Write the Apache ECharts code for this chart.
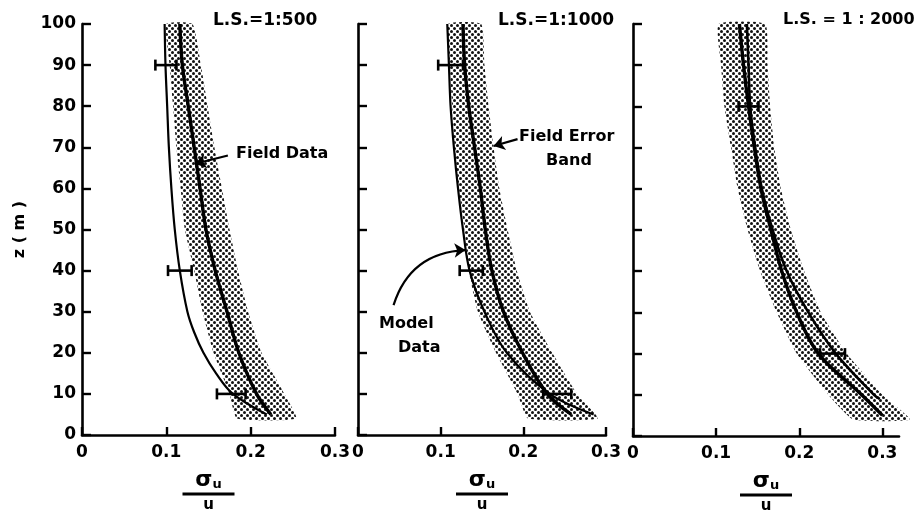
<!DOCTYPE html>
<html>
<head>
<meta charset="utf-8">
<script src="https://cdn.jsdelivr.net/npm/echarts@6/dist/echarts.min.js"></script>
<style>
html,body{margin:0;padding:0;background:#fff;}
#c{width:922px;height:511px;}
</style>
</head>
<body>
<div id="c"></div>
<script>
// ---------- data ----------
const panelTitles = ['L.S.=1:500', 'L.S.=1:1000', 'L.S. = 1 : 2000'];
const xTicks = [0, 0.1, 0.2, 0.3];
const yTicks = [0, 10, 20, 30, 40, 50, 60, 70, 80, 90, 100];

const zLevels = [100, 90, 80, 70, 60, 50, 40, 30, 20, 10, 5];
const bandZ   = [100, 90, 80, 70, 60, 50, 40, 30, 20, 10, 4];

// Panel 1  (L.S. = 1:500)
const p1Field  = [0.116, 0.119, 0.126, 0.133, 0.140, 0.147, 0.158, 0.172, 0.186, 0.207, 0.224];
const p1ModelZ = [100, 90, 80, 70, 60, 50, 40, 30, 25, 20, 15, 10, 5];
const p1Model  = [0.098, 0.099, 0.101, 0.103, 0.106, 0.110, 0.116, 0.125, 0.133, 0.144, 0.159, 0.179, 0.219];
const p1BandL  = [0.100, 0.104, 0.108, 0.112, 0.117, 0.122, 0.133, 0.143, 0.156, 0.175, 0.184];
const p1BandR  = [0.131, 0.141, 0.149, 0.157, 0.166, 0.175, 0.185, 0.197, 0.213, 0.240, 0.254];
const p1ErrZ   = [90, 40, 10];
const p1ErrLo  = [0.087, 0.102, 0.160];
const p1ErrHi  = [0.112, 0.130, 0.194];

// Panel 2  (L.S. = 1:1000)
const p2Field = [0.127, 0.129, 0.134, 0.141, 0.148, 0.154, 0.162, 0.176, 0.199, 0.229, 0.258];
const p2Model = [0.108, 0.110, 0.112, 0.116, 0.121, 0.127, 0.135, 0.153, 0.180, 0.232, 0.285];
const p2BandL = [0.109, 0.111, 0.114, 0.117, 0.122, 0.129, 0.134, 0.145, 0.167, 0.193, 0.206];
const p2BandR = [0.149, 0.153, 0.158, 0.164, 0.171, 0.181, 0.192, 0.208, 0.235, 0.265, 0.290];
const p2ErrZ  = [90, 40, 10];
const p2ErrLo = [0.097, 0.123, 0.224];
const p2ErrHi = [0.127, 0.151, 0.258];

// Panel 3  (L.S. = 1:2000)
const p3Field  = [0.128, 0.133, 0.139, 0.146, 0.154, 0.166, 0.179, 0.197, 0.223, 0.275, 0.300];
const p3ModelZ = [100, 90, 80, 70, 60, 50, 40, 30, 20, 10, 9];
const p3Model  = [0.137, 0.139, 0.141, 0.147, 0.155, 0.168, 0.185, 0.211, 0.244, 0.290, 0.297];
const p3BandL  = [0.103, 0.106, 0.110, 0.118, 0.126, 0.138, 0.153, 0.173, 0.197, 0.235, 0.265];
const p3BandR  = [0.159, 0.162, 0.165, 0.170, 0.178, 0.190, 0.206, 0.226, 0.257, 0.300, 0.333];
const p3ErrZ   = [80, 20];
const p3ErrLo  = [0.127, 0.225];
const p3ErrHi  = [0.151, 0.255];

// annotation arrows (data coordinates: [sigma_u/u, z])
const fieldDataArrow  = [[0.173, 68.0], [0.134, 66.0]];
const errorBandArrow  = [[0.193, 72.0], [0.164, 70.3]];
const modelDataArrow  = [[0.043, 31.6], [0.130, 45.0]];

// ---------- styling helpers ----------
const FONT = 'DejaVu Sans';
const tile = document.createElement('canvas');
tile.width = 6; tile.height = 6;
(function(){
  const g = tile.getContext('2d');
  g.fillStyle = '#fff'; g.fillRect(0,0,6,6);
  g.fillStyle = '#111';
  g.beginPath(); g.arc(1.5, 1.5, 1.5, 0, Math.PI*2); g.fill();
  g.beginPath(); g.arc(4.5, 4.5, 1.5, 0, Math.PI*2); g.fill();
})();
const dotPattern = { image: tile, repeat: 'repeat' };

function pairs(xs, zs){ return zs.map((z,i)=>[xs[i], z]); }

function bandSeries(idx, L, R){
  return {
    type: 'custom', xAxisIndex: idx, yAxisIndex: idx, silent: true, z: 1,
    data: bandZ.map((z,i)=>[L[i], R[i], z]),
    encode: { x: [0,1], y: 2 },
    renderItem: function(params, api){
      if (params.dataIndex !== 0) return { type: 'group', children: [] };
      const pts = [];
      for (let i = 0; i < bandZ.length; i++) pts.push(api.coord([L[i], bandZ[i]]));
      for (let i = bandZ.length - 1; i >= 0; i--) pts.push(api.coord([R[i], bandZ[i]]));
      return { type: 'polygon', shape: { points: pts, smooth: 0.15 }, style: { fill: dotPattern, stroke: null } };
    }
  };
}

function errSeries(idx, zs, lo, hi){
  return {
    type: 'custom', xAxisIndex: idx, yAxisIndex: idx, silent: true, z: 5,
    data: zs.map((z,i)=>[lo[i], hi[i], z]),
    encode: { x: [0,1], y: 2 },
    renderItem: function(params, api){
      const z = api.value(2);
      const a = api.coord([api.value(0), z]);
      const b = api.coord([api.value(1), z]);
      const h = 5.5, st = { stroke: '#000', lineWidth: 2.6 };
      return { type: 'group', children: [
        { type: 'line', shape: { x1: a[0], y1: a[1], x2: b[0], y2: b[1] }, style: st },
        { type: 'line', shape: { x1: a[0], y1: a[1]-h, x2: a[0], y2: a[1]+h }, style: st },
        { type: 'line', shape: { x1: b[0], y1: b[1]-h, x2: b[0], y2: b[1]+h }, style: st }
      ]};
    }
  };
}

function lineSeries(idx, xs, zs, width){
  return {
    type: 'line', xAxisIndex: idx, yAxisIndex: idx, data: pairs(xs, zs),
    smooth: 0.35, symbol: 'none', silent: true, z: 3,
    lineStyle: { color: '#000', width: width }
  };
}

function arrowSeries(idx, arrow, curveness){
  return {
    type: 'lines', coordinateSystem: 'cartesian2d', xAxisIndex: idx, yAxisIndex: idx,
    silent: true, z: 4, symbol: ['none', 'arrow'], symbolSize: 11,
    lineStyle: { color: '#000', width: 2.2, opacity: 1, curveness: curveness || 0 },
    data: [{ coords: arrow }]
  };
}

const grids = [
  { left: 82,  top: 24, width: 253, height: 411, outerBoundsMode: 'none' },
  { left: 358, top: 24, width: 248, height: 411, outerBoundsMode: 'none' },
  { left: 633, top: 24, width: 266, height: 412, outerBoundsMode: 'none' }
];
const xMax = [0.3, 0.3, 0.32];

const fracName = '{s|σ}{sub|u}\n{bar| }\n{d|u}';
const fracRich = {
  s:   { fontFamily: FONT, fontSize: 22, fontWeight: 'bold', color: '#000', lineHeight: 20, verticalAlign: 'bottom' },
  sub: { fontFamily: FONT, fontSize: 13, fontWeight: 'bold', color: '#000', lineHeight: 20, verticalAlign: 'bottom' },
  bar: { width: 52, height: 3, lineHeight: 6, backgroundColor: '#000' },
  d:   { fontFamily: FONT, fontSize: 15, fontWeight: 'bold', color: '#000', lineHeight: 16 }
};

const xAxes = grids.map((g, i) => ({
  type: 'value', gridIndex: i, min: 0, max: xMax[i], interval: 0.1,
  name: fracName, nameLocation: 'middle', nameGap: 36,
  nameTextStyle: { rich: fracRich },
  axisLine: { show: true, onZero: false, lineStyle: { color: '#000', width: 2.6 } },
  axisTick: { show: true, inside: true, length: 8, lineStyle: { color: '#000', width: 2.4 }, customValues: xTicks },
  axisLabel: { show: true, customValues: xTicks, margin: 9, color: '#000', fontFamily: FONT, fontWeight: 'bold', fontSize: 17,
               formatter: v => String(Math.round(v*10)/10) },
  splitLine: { show: false }
}));

const yAxes = grids.map((g, i) => ({
  type: 'value', gridIndex: i, min: 0, max: 100, interval: 10,
  name: i === 0 ? 'z ( m )' : '', nameLocation: 'middle', nameGap: 54, nameRotate: 90,
  nameTextStyle: { color: '#000', fontFamily: FONT, fontWeight: 'bold', fontSize: 16 },
  axisLine: { show: true, onZero: false, lineStyle: { color: '#000', width: 2.6 } },
  axisTick: { show: true, inside: true, length: 9, lineStyle: { color: '#000', width: 2.4 } },
  axisLabel: { show: i === 0, margin: 6, color: '#000', fontFamily: FONT, fontWeight: 'bold', fontSize: 17 },
  splitLine: { show: false }
}));

const titleLeft = [213, 498, 783];
const titleSize = [17, 17, 16];
const option = {
  animation: false,
  backgroundColor: '#fff',
  title: panelTitles.map((t, i) => ({
    text: t, left: titleLeft[i], top: 12, padding: 0,
    textStyle: { fontFamily: FONT, fontWeight: 'bold', fontSize: titleSize[i], color: '#000' }
  })),
  grid: grids,
  xAxis: xAxes,
  yAxis: yAxes,
  series: [
    bandSeries(0, p1BandL, p1BandR),
    bandSeries(1, p2BandL, p2BandR),
    bandSeries(2, p3BandL, p3BandR),
    lineSeries(0, p1Model, p1ModelZ, 2.2),
    lineSeries(0, p1Field, zLevels, 3.4),
    lineSeries(1, p2Model, zLevels, 2.2),
    lineSeries(1, p2Field, zLevels, 3.4),
    lineSeries(2, p3Model, p3ModelZ, 2.6),
    lineSeries(2, p3Field, zLevels, 3.4),
    errSeries(0, p1ErrZ, p1ErrLo, p1ErrHi),
    errSeries(1, p2ErrZ, p2ErrLo, p2ErrHi),
    errSeries(2, p3ErrZ, p3ErrLo, p3ErrHi),
    arrowSeries(0, fieldDataArrow),
    arrowSeries(1, errorBandArrow),
    arrowSeries(1, modelDataArrow, 0.35)
  ],
  graphic: [
    { type: 'text', left: 236, top: 146, style: { text: 'Field Data', font: 'bold 16px "DejaVu Sans"', fill: '#000' } },
    { type: 'text', left: 519, top: 129, style: { text: 'Field Error', font: 'bold 16px "DejaVu Sans"', fill: '#000' } },
    { type: 'text', left: 546, top: 153, style: { text: 'Band', font: 'bold 16px "DejaVu Sans"', fill: '#000' } },
    { type: 'text', left: 379, top: 316, style: { text: 'Model', font: 'bold 16px "DejaVu Sans"', fill: '#000' } },
    { type: 'text', left: 398, top: 340, style: { text: 'Data', font: 'bold 16px "DejaVu Sans"', fill: '#000' } }
  ]
};

const chart = echarts.init(document.getElementById('c'), null, { renderer: 'canvas' });
chart.setOption(option);
</script>
</body>
</html>
